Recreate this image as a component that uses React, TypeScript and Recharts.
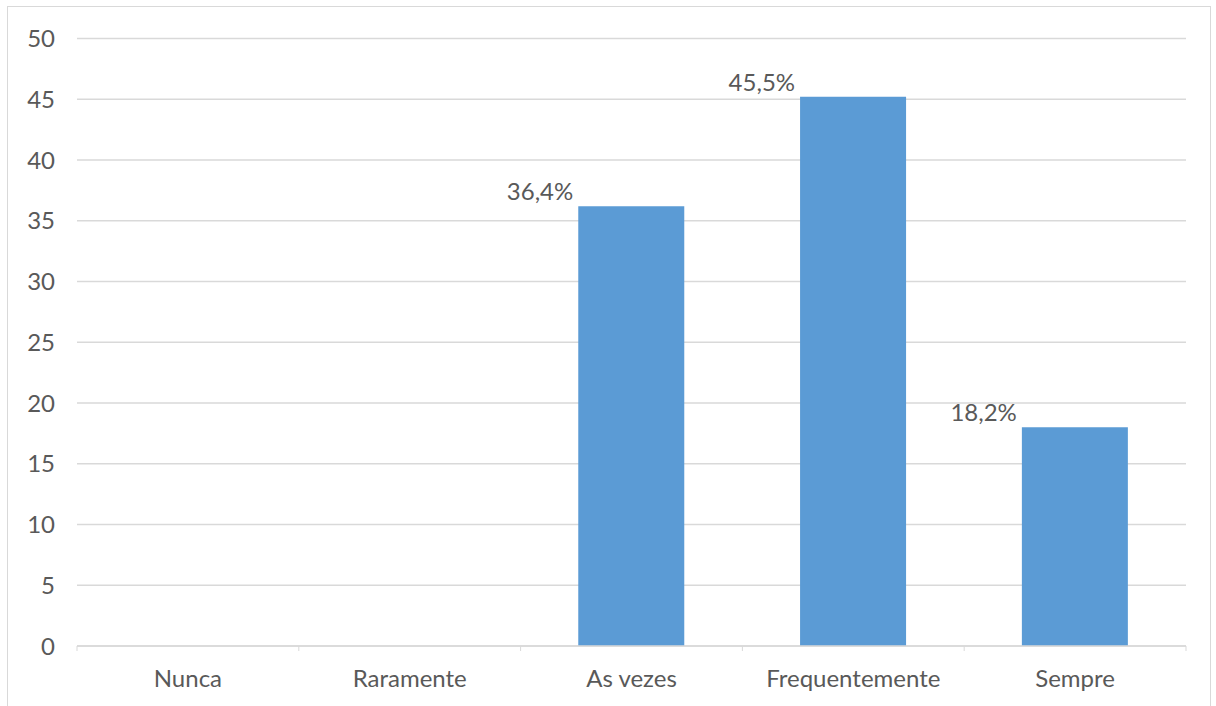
import React from "react";
import { BarChart, Bar, XAxis, YAxis, CartesianGrid, LabelList } from "recharts";

const categories = ["Nunca", "Raramente", "As vezes", "Frequentemente", "Sempre"];
const values = [0, 0, 36.2, 45.2, 18.0];
const labels = ["", "", "36,4%", "45,5%", "18,2%"];
const yTicks = [0, 5, 10, 15, 20, 25, 30, 35, 40, 45, 50];

const data = categories.map((c, i) => ({ name: c, value: values[i], label: labels[i] }));

const FONT = "Lato, 'Open Sans', sans-serif";
const TEXT = "#595959";
const GRID = "#d9d9d9";

const XTick = (props: any) => {
  const { x, y, payload, index } = props;
  const half = payload && payload.offset ? payload.offset : 0;
  return (
    <g>
      <line x1={x - half} y1={y} x2={x - half} y2={y + 5} stroke={GRID} strokeWidth={1} />
      {index === categories.length - 1 && (
        <line x1={x + half} y1={y} x2={x + half} y2={y + 5} stroke={GRID} strokeWidth={1} />
      )}
      <text x={x} y={y + 41} textAnchor="middle" fill={TEXT} fontSize={24} fontFamily={FONT}>
        {payload.value}
      </text>
    </g>
  );
};

const BarLabel = (props: any) => {
  const { x, y, value } = props;
  if (!value) return null;
  return (
    <text x={x - 5} y={y - 6} textAnchor="end" fill={TEXT} fontSize={24} fontFamily={FONT}>
      {value}
    </text>
  );
};

export default function App() {
  return (
    <div style={{ position: "absolute", left: 0, top: 0, width: 1216, height: 706, background: "#fff" }}>
      <div
        style={{
          position: "absolute",
          left: 7,
          top: 6,
          width: 1204,
          height: 720,
          border: `1px solid ${GRID}`,
          boxSizing: "border-box",
        }}
      />
      <div style={{ position: "absolute", left: 0, top: 0 }}>
        <BarChart
          width={1216}
          height={706}
          data={data}
          margin={{ top: 38.5, right: 30, bottom: 0, left: 0 }}
          barCategoryGap="26%"
        >
          <CartesianGrid vertical={false} stroke={GRID} strokeWidth={1.5} />
          <XAxis
            dataKey="name"
            axisLine={{ stroke: GRID, strokeWidth: 1.5 }}
            tickLine={false}
            tickSize={0}
            tickMargin={0}
            height={60}
            interval={0}
            tick={<XTick />}
          />
          <YAxis
            width={77}
            domain={[0, 50]}
            ticks={yTicks}
            axisLine={false}
            tickLine={false}
            tickSize={0}
            tickMargin={22}
            tick={{ fill: TEXT, fontSize: 24, fontFamily: FONT }}
          />
          <Bar dataKey="value" fill="#5b9bd5" isAnimationActive={false}>
            <LabelList dataKey="label" content={<BarLabel />} />
          </Bar>
        </BarChart>
      </div>
    </div>
  );
}
